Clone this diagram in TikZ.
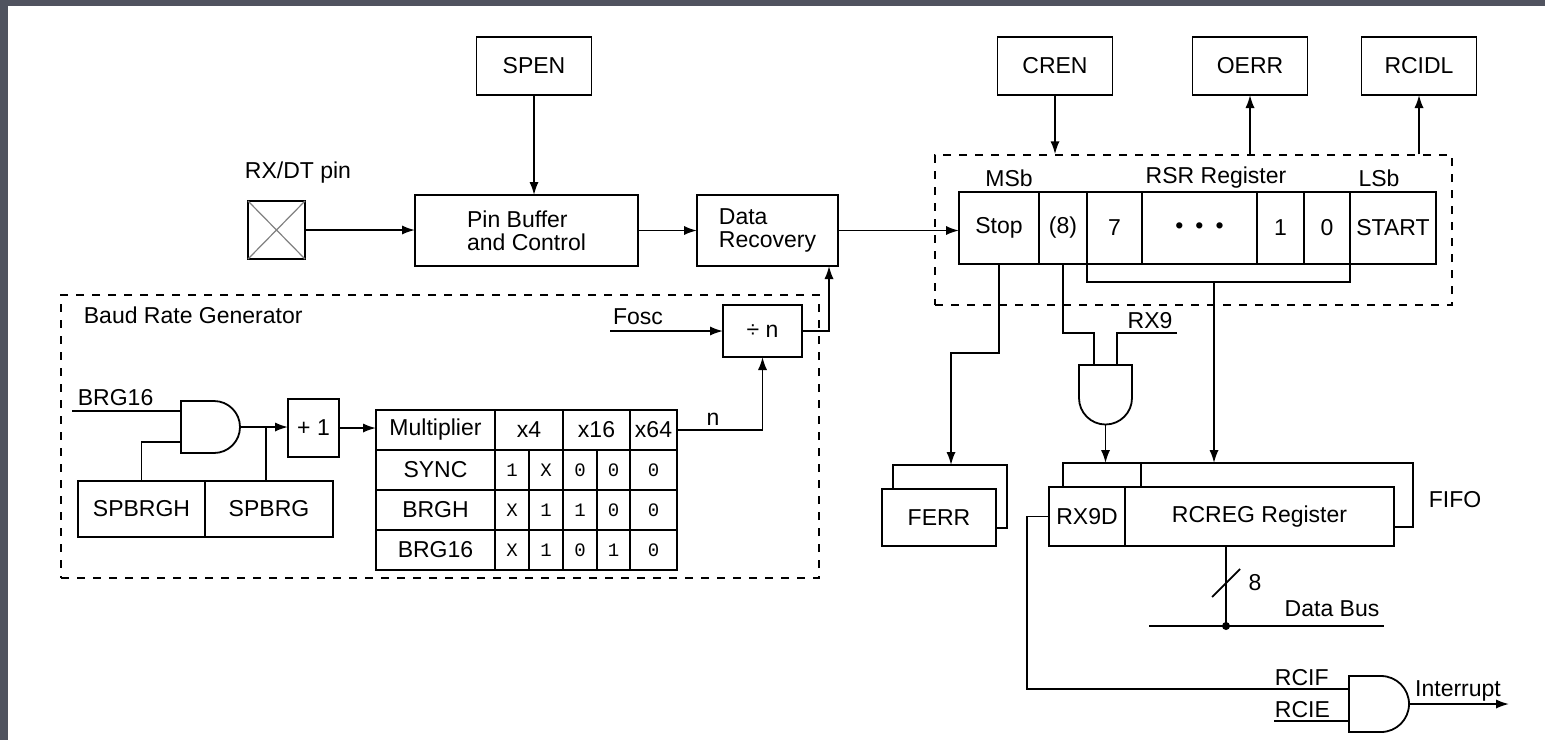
\documentclass[tikz,border=0pt]{standalone}
\usepackage{fontspec}
\setmainfont{Liberation Sans}
\newfontfamily\bitfont{Liberation Mono}
\usetikzlibrary{positioning,arrows.meta,calc}
\definecolor{framegray}{HTML}{50535F}

\begin{document}
\begin{tikzpicture}[x=0.5pt, y=-0.5pt,
    font=\fontsize{11.5}{11.5}\selectfont,
    line width=0.9pt,
    block/.style={rectangle, draw=black, inner sep=1pt, outer sep=0pt, align=center},
    flag/.style={block, minimum width=57.5pt, minimum height=29pt},
    cell/.style={block, minimum height=36pt},
    tcell/.style={block, minimum height=20pt},
    bit/.style={tcell, font=\bitfont\fontsize{9.5}{10}\selectfont},
    dashbox/.style={rectangle, draw=black, dash pattern=on 4pt off 4pt, line width=0.75pt},
    lbl/.style={inner sep=1pt},
    arrow/.style={-{Latex[length=6.5pt, width=4.6pt]}}
]
    \useasboundingbox (0,0) rectangle (1545,740);
    \fill[framegray] (0,0) rectangle (1545,6);
    \fill[framegray] (0,0) rectangle (8,740);

    % Flag registers
    \node[flag] (spen) at (534,66) {SPEN};
    \node[flag] (cren) at (1055,66) {CREN};
    \node[flag] (oerr) at (1250,66) {OERR};
    \node[flag] (rcidl) at (1419,66) {RCIDL};

    % Receive path
    \node[block, minimum width=28.5pt, minimum height=29pt] (pad) at (276.5,230) {};
    \draw[gray, line width=0.6pt] (pad.north west) -- (pad.south east) (pad.north east) -- (pad.south west);
    \node[lbl] (padlbl) at (298,173) {RX/DT pin};
    \node[block, minimum width=111.5pt, minimum height=35.5pt, align=left] (pinbuf) at (526.5,230.5) {Pin Buffer\\and Control};
    \node[block, minimum width=70.5pt, minimum height=35.5pt, align=left] (datarec) at (767.5,230.5) {Data\\Recovery};

    % RSR register
    \node[dashbox, minimum width=258.5pt, minimum height=75pt] (rsrbox) at (1193.5,230) {};
    \node[cell, minimum width=40pt] (stop) at (999,228) {Stop};
    \node[cell, minimum width=24pt, right=0pt of stop] (bit8) {(8)};
    \node[cell, minimum width=27.5pt, right=0pt of bit8] (bit7) {7};
    \node[cell, minimum width=57.5pt, right=0pt of bit7] (dots) {•\hspace{6pt}•\hspace{6pt}•};
    \node[cell, minimum width=23.5pt, right=0pt of dots] (bit1) {1};
    \node[cell, minimum width=23pt, right=0pt of bit1] (bit0) {0};
    \node[cell, minimum width=43pt, right=0pt of bit0] (start) {START};
    \node[lbl] (msb) at (1009,178) {MSb};
    \node[lbl] (rsrlbl) at (1216,178) {RSR Register};
    \node[lbl] (lsb) at (1379,178) {LSb};

    % Baud rate generator
    \node[dashbox, minimum width=379pt, minimum height=141.5pt] (baudbox) at (440,436.5) {};
    \node[lbl, anchor=west] (baudlbl) at (81,315) {Baud Rate Generator};
    \node[lbl, anchor=west] (brglbl) at (75,398) {BRG16};
    \node[block, minimum width=63.5pt, minimum height=28pt] (spbrgh) at (141.5,509) {SPBRGH};
    \node[block, minimum width=64pt, minimum height=28pt, right=0pt of spbrgh] (spbrg) {SPBRG};
    \node[block, minimum width=25.5pt, minimum height=29pt] (inc) at (313.5,428) {+ 1};
    \draw (181,401) -- (214,401) arc[start angle=-90, end angle=90, radius=26] -- (181,453) -- cycle;
    \coordinate (brgin) at (72,411);
    \coordinate (brgand1) at (181,411);
    \coordinate (brgand2) at (181,442);
    \coordinate (brgout) at (240,427);
    \coordinate (brgtap) at (266,427);

    % Multiplier table
    \node[tcell, minimum width=59.5pt] (mulhd) at (435.5,430) {Multiplier};
    \node[tcell, minimum width=34pt, right=0pt of mulhd] (x4hd) {x4};
    \node[tcell, minimum width=33.5pt, right=0pt of x4hd] (x16hd) {x16};
    \node[tcell, minimum width=23.5pt, right=0pt of x16hd] (x64hd) {x64};
    \node[tcell, minimum width=59.5pt] (synchd) at (435.5,470) {SYNC};
    \node[tcell, minimum width=59.5pt] (brghhd) at (435.5,510) {BRGH};
    \node[tcell, minimum width=59.5pt] (brgxhd) at (435.5,550) {BRG16};
    \foreach \cx/\cw/\s/\h/\g [count=\c] in {512/17pt/1/X/X, 546/17pt/X/1/1, 580/17pt/0/1/0, 613.5/16.5pt/0/0/1, 653.5/23.5pt/0/0/0} {
        \node[bit, minimum width=\cw] (sync\c) at (\cx,470) {\s};
        \node[bit, minimum width=\cw] (brgh\c) at (\cx,510) {\h};
        \node[bit, minimum width=\cw] (brgx\c) at (\cx,550) {\g};
    }

    \node[block, minimum width=39.5pt, minimum height=26pt] (divn) at (762.5,331) {÷ n};
    \coordinate (foscin) at (610,331);
    \node[lbl] (fosclbl) at (638,317) {Fosc};
    \node[lbl] (nlbl) at (713,419) {n};

    % FERR and receive FIFO
    \node[block, minimum width=57pt, minimum height=28.5pt] (ferr) at (939,517.5) {FERR};
    \draw ($(ferr.north west)+(11,0)$) |- ($(ferr.north east)+(11,-24)$) -- ($(ferr.east)+(11,10.5)$) -- ($(ferr.east)+(0,10.5)$);
    \coordinate (ferrtop) at ($(ferr.north)+(12,-24)$);
    \node[block, minimum width=38pt, minimum height=29.5pt] (rx9d) at (1087,516.5) {RX9D};
    \node[block, minimum width=134.5pt, minimum height=29.5pt, right=0pt of rx9d] (rcreg) {RCREG Register};
    \draw ($(rx9d.north west)+(14,0)$) |- ($(rcreg.north east)+(19,-24)$) -- ($(rcreg.east)+(19,10.5)$) -- ($(rcreg.east)+(0,10.5)$);
    \draw ($(rx9d.north east)+(16,0)$) -- ++(0,-24);
    \coordinate (fifotop) at ($(rx9d.north west)+(14,-24)$);
    \node[lbl] (fifolbl) at (1455,500) {FIFO};

    % RX9 gate
    \draw (1079,365) -- (1132,365) -- (1132,398) arc[start angle=0, end angle=180, radius=26.5] -- cycle;
    \coordinate (rx9in1) at (1094,365);
    \coordinate (rx9in2) at (1117,365);
    \coordinate (rx9out) at (1105.5,424.5);
    \coordinate (rx9end) at (1177,333);
    \node[lbl] (rx9lbl) at (1150,321) {RX9};
    \coordinate (rsrtap) at (1214,282);

    % Data bus
    \coordinate (busdot) at (1226,626);
    \coordinate (busl) at (1149,626);
    \coordinate (busr) at (1384,626);
    \node[lbl] (buswd) at (1255,583) {8};
    \node[lbl] (buslbl) at (1332,609) {Data Bus};

    % Interrupt gate
    \draw (1349,676) -- (1381,676) arc[start angle=-90, end angle=90, radius=28] -- (1349,732) -- cycle;
    \coordinate (intin1) at (1349,689);
    \coordinate (intin2) at (1349,721);
    \coordinate (intout) at (1409,704);
    \coordinate (intend) at (1509,704);
    \coordinate (rcieend) at (1274,721);
    \node[lbl, anchor=south west] (rciflbl) at (1272,689) {RCIF};
    \node[lbl, anchor=south west] (rcielbl) at (1272,721) {RCIE};
    \node[lbl, anchor=south] (intlbl) at (1458,704) {Interrupt};

    % Arrows
    \draw[arrow] (spen.south) -- (spen.south |- pinbuf.north);
    \draw[arrow] (pad.east) -- (pad.east -| pinbuf.west);
    \draw[arrow] (pinbuf) -- (datarec);
    \draw[arrow] (datarec.east) -- (datarec.east -| stop.west);
    \draw[arrow] (cren.south) -- (cren.south |- rsrbox.north);
    \draw[arrow] (oerr.south |- rsrbox.north) -- (oerr.south);
    \draw[arrow] (rcidl.south |- rsrbox.north) -- (rcidl.south);
    \draw (brgin) -- (brgand1);
    \draw (brgand2) -| (spbrgh.north);
    \draw (brgtap) -- (brgtap |- spbrg.north);
    \draw[arrow] (brgout) -- (brgout -| inc.west);
    \draw[arrow] (inc.east) -- (inc.east -| mulhd.west);
    \draw[arrow] (x64hd.east) -| (divn.south);
    \draw[arrow] (foscin) -- (divn.west);
    \draw[arrow] (divn.east) -| ([xshift=-4.5pt]datarec.south east);
    \draw (bit7.south west) -- ++(0,18) -| (start.south west);
    \draw[arrow] (rsrtap) -- (rsrtap |- fifotop);
    \draw[arrow] (stop.south) -- ++(0,89) -| (ferrtop);
    \draw (bit8.south) -- ++(0,69) -| (rx9in1);
    \draw (rx9end) -| (rx9in2);
    \draw[arrow] (rx9out) -- (rx9out |- fifotop);
    \draw (busdot |- rcreg.south) -- (busdot);
    \draw (busl) -- (busr);
    \fill (busdot) circle[radius=4];
    \draw ($(busdot)+(-14,-29)$) -- ++(28,-28);
    \draw (rx9d.west) -- ++(-22,0) |- (intin1);
    \draw (rcieend) -- (intin2);
    \draw[arrow] (intout) -- (intend);
\end{tikzpicture}
\end{document}
